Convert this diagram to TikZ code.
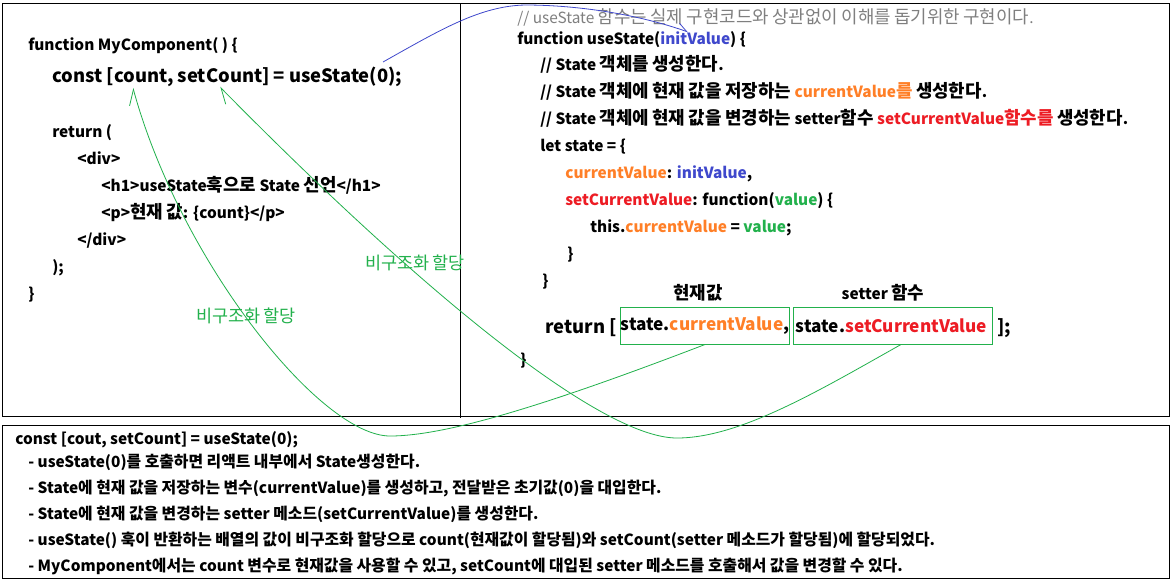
\documentclass[tikz,border=0pt]{standalone}
\usepackage{fontspec}
\setmainfont{Noto Sans CJK KR}
\newfontfamily\hanwide{Noto Sans CJK KR}[Scale=1.16]
\newfontfamily\hannarrow{Noto Sans CJK KR}[Scale=1.03]
\def\hanfont{\hanwide}
% Hangul syllables a little larger than the Latin letters
\XeTeXinterchartokenstate=1
\newXeTeXintercharclass\hanclass
\count255="AC00
\loop\XeTeXcharclass\count255=\hanclass\ifnum\count255<"D7A3 \advance\count255 by 1 \repeat
\XeTeXinterchartoks 0 \hanclass = {\begingroup\hanfont}
\XeTeXinterchartoks 4095 \hanclass = {\begingroup\hanfont}
\XeTeXinterchartoks \hanclass 0 = {\endgroup}
\XeTeXinterchartoks \hanclass 4095 = {\endgroup}
\usetikzlibrary{arrows.meta}
\definecolor{pgreen}{HTML}{22B14C}
\definecolor{porange}{HTML}{FF7F27}
\definecolor{pred}{HTML}{ED1C24}
\definecolor{pblue}{HTML}{3F48CC}
\definecolor{pgray}{HTML}{7F7F7F}
\tikzset{
  code/.style={anchor=base west, inner sep=0pt, font=\bfseries\fontsize{11.55}{13}\selectfont},
  bigcode/.style={code, font=\bfseries\fontsize{13.8}{15}\selectfont},
  remark/.style={code, text=pgray, font=\mdseries\fontsize{11.55}{13}\selectfont},
  note/.style={code, font=\bfseries\fontsize{11.55}{13}\selectfont\let\hanfont\hannarrow},
  hint/.style={inner sep=0pt, text=pgreen, font=\fontsize{11.3}{13}\selectfont},
  valbox/.style={draw=pgreen, line width=0.75pt, anchor=west, inner sep=0pt, minimum height=27.75pt, font=\bfseries\fontsize{12.9}{15}\selectfont},
  link/.style={pgreen, line width=0.6pt, -{Straight Barb[harpoon,length=11pt,width=12pt]}},
}
\begin{document}
\begin{tikzpicture}[x=0.75pt,y=-0.75pt]
			%%%%% START %%%%%
			\useasboundingbox (0,0) rectangle (1174,583);
			\fill[white] (0,0) rectangle (1174,583);
			
			\draw[line width=0.75pt] (2,3) rectangle (1169,416);
			\draw[line width=0.75pt] (460,3) -- (460,418);
			\draw[line width=0.75pt] (2,425) rectangle (1169,578);
			
			%%%%% MyComponent %%%%%
			\node[code] (cmpHead) at (28,50) {function MyComponent( ) \{};
			\node[bigcode] (useLine) at (52,82) {const [count, setCount] = useState(0);};
			\node[code] (retOpen) at (52,137) {return (};
			\node[code] (divOpen) at (77,164) {<div>};
			\node[code] (hLine) at (101,191) {<h1>useState훅으로 State 선언</h1>};
			\node[code] (pLine) at (101,218) {<p>현재 값: \{count\}</p>};
			\node[code] (divClose) at (77,245) {</div>};
			\node[code] (retClose) at (52,272) {);};
			\node[code] (cmpClose) at (28,299) {\}};
			
			\node[hint] (hintA) at (415,263) {비구조화 할당};
			\node[hint] (hintB) at (246,316) {비구조화 할당};
			
			%%%%% useState %%%%%
			\node[remark] (usNote) at (517,23) {// useState 함수는 실제 구현코드와 상관없이 이해를 돕기위한 구현이다.};
			\node[code] (usHead) at (517,44) {function useState(\textcolor{pblue}{initValue}) \{};
			\node[code] (cm1) at (540,70) {// State 객체를 생성한다.};
			\node[code] (cm2) at (540,97) {// State 객체에 현재 값을 저장하는 \textcolor{porange}{currentValue를} 생성한다.};
			\node[code] (cm3) at (540,124) {// State 객체에 현재 값을 변경하는 setter함수 \textcolor{pred}{setCurrentValue함수를} 생성한다.};
			\node[code] (stOpen) at (540,151) {let state = \{};
			\node[code] (stCur) at (565,178) {\textcolor{porange}{currentValue}: \textcolor{pblue}{initValue},};
			\node[code] (stSet) at (565,205) {\textcolor{pred}{setCurrentValue}: function(\textcolor{pgreen}{value}) \{};
			\node[code] (stAssign) at (590,232) {this.\textcolor{porange}{currentValue} = \textcolor{pgreen}{value};};
			\node[code] (fnClose) at (567,259) {\}};
			\node[code] (stClose) at (542,286) {\}};
			
			\node[code, anchor=base] (capA) at (698,299) {현재값};
			\node[code, anchor=base] (capB) at (883,299) {setter 함수};
			
			\node[bigcode] (retKey) at (545,333) {return [};
			\node[valbox, minimum width=126.75pt] (box1) at (620,325.5) {state.\textcolor{porange}{currentValue},};
			\node[valbox, minimum width=149.25pt] (box2) at (793,325.5) {state.\textcolor{pred}{setCurrentValue}\,};
			\node[bigcode] (retEnd) at (997,333) {];};
			\node[code] (usClose) at (520,365) {\}};
			
			%%%%% notes %%%%%
			\node[note] (nt0) at (15,444) {const [cout, setCount] = useState(0);};
			\node[note] (nt1) at (28,467) {- useState(0)를 호출하면 리액트 내부에서 State생성한다.};
			\node[note] (nt2) at (28,493) {- State에 현재 값을 저장하는 변수(currentValue)를 생성하고, 전달받은 초기값(0)을 대입한다.};
			\node[note] (nt3) at (28,519) {- State에 현재 값을 변경하는 setter 메소드(setCurrentValue)를 생성한다.};
			\node[note] (nt4) at (28,545) {- useState() 훅이 반환하는 배열의 값이 비구조화 할당으로 count(현재값이 할당됨)와 setCount(setter 메소드가 할당됨)에 할당되었다.};
			\node[note] (nt5) at (28,571) {- MyComponent에서는 count 변수로 현재값을 사용할 수 있고, setCount에 대입된 setter 메소드를 호출해서 값을 변경할 수 있다.};
			
			%%%%% links %%%%%
			\coordinate (useEnd) at (383,62);
			\coordinate (initTip) at (688,32);
			\coordinate (cntTip) at (133,88);
			\coordinate (setTip) at (220,87);
			
			\draw[pblue, line width=0.6pt, -{Straight Barb[harpoon,length=7pt,width=8pt]}] (useEnd) .. controls (440,30) and (480,6) .. (525,5) .. controls (580,5) and (640,15) .. (initTip);
			\draw[link] (box1.south) .. controls (560,400) and (450,436) .. (390,436) .. controls (320,436) and (180,260) .. (cntTip);
			\draw[link] ([xshift=6pt]box2.south) .. controls (820,390) and (740,438) .. (677,438) .. controls (600,438) and (420,290) .. (setTip);
			%%%%% END %%%%%
\end{tikzpicture}
\end{document}
